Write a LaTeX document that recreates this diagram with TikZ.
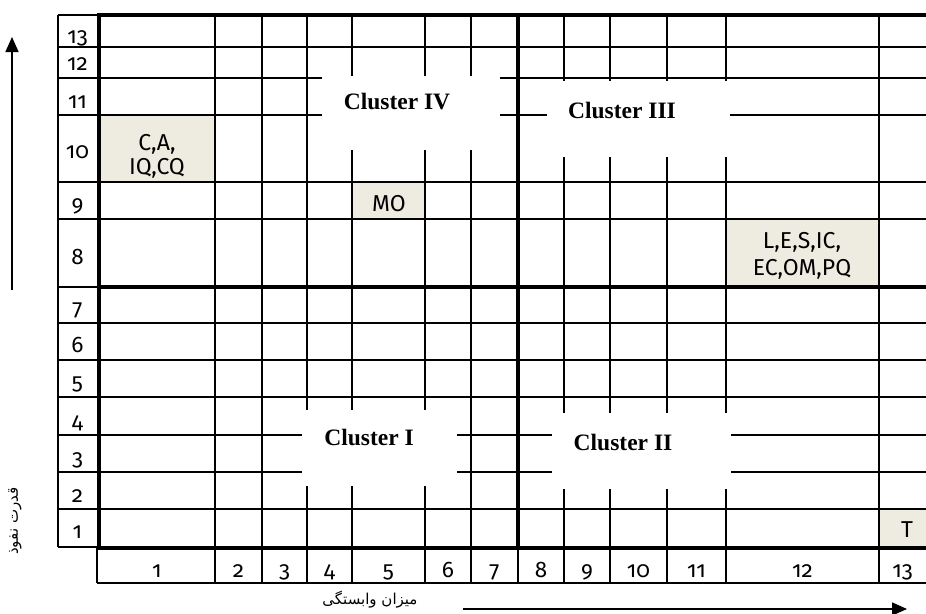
\documentclass[tikz,border=0pt]{standalone}
\usepackage{fontspec}
\usetikzlibrary{arrows.meta}
\TeXXeTstate=1
\newfontfamily\cellfont[Numbers=OldStyle]{Fira Sans}
\newfontfamily\clusterfont{Liberation Serif}
\newfontfamily\farsifont[Script=Arabic]{DejaVu Sans}
\definecolor{clrcell}{HTML}{EEECE1}
\definecolor{clrgrid}{HTML}{000000}
\definecolor{clrgap}{HTML}{FFFFFF}

\begin{document}
\begin{tikzpicture}[
    x=1pt, y=-1pt,
    gridline/.style={draw=clrgrid, line width=1.8pt},
    boldline/.style={draw=clrgrid, line width=4.4pt, line cap=rect},
    cell/.style={fill=clrcell, inner sep=0, outer sep=0},
    celltext/.style={font=\cellfont\fontsize{23}{24}\selectfont, align=center, inner sep=0},
    numlabel/.style={font=\cellfont\fontsize{22.5}{24}\selectfont, anchor=base, inner sep=0},
    gapmask/.style={fill=clrgap, inner sep=0, outer sep=0},
    cluster/.style={font=\clusterfont\bfseries\fontsize{23.5}{28}\selectfont, inner sep=0},
    axisarrow/.style={-{Triangle[length=15pt, width=13pt]}, line width=1.6pt, color=clrgrid},
    axistext/.style={font=\farsifont\fontsize{15}{17}\selectfont, inner sep=0},
]
\useasboundingbox (0,0) rectangle (926,613);
% shaded cells
\node[cell, minimum width=116pt, minimum height=67pt] (n_cell1) at (157,148.5) {};
\node[cell, minimum width=73pt, minimum height=37pt] (n_cell2) at (388.5,200.5) {};
\node[cell, minimum width=153pt, minimum height=68pt] (n_cell3) at (802.5,253) {};
\node[cell, minimum width=60pt, minimum height=38pt] (n_cell4) at (909,528) {};
\node[celltext] (n_cell1_txt) at (157,156) {C,A,\\IQ,CQ};
\node[celltext] (n_cell2_txt) at (389,204) {MO};
\node[celltext] (n_cell3_txt) at (802,256) {L,E,S,IC,\\[3pt]EC,OM,PQ};
\node[celltext] (n_cell4_txt) at (907,530) {T};
% thin rules
\draw[gridline] (58,15) -- (99,15);
\draw[gridline] (58,47) -- (926,47);
\draw[gridline] (58,78) -- (926,78);
\draw[gridline] (58,115) -- (926,115);
\draw[gridline] (58,182) -- (926,182);
\draw[gridline] (58,219) -- (926,219);
\draw[gridline] (58,287) -- (99,287);
\draw[gridline] (58,323) -- (926,323);
\draw[gridline] (58,360) -- (926,360);
\draw[gridline] (58,397) -- (926,397);
\draw[gridline] (58,435) -- (926,435);
\draw[gridline] (58,472) -- (926,472);
\draw[gridline] (58,509) -- (926,509);
\draw[gridline] (58,547) -- (99,547);
\draw[gridline] (97,583) -- (926,583);
\draw[gridline] (58,15) -- (58,547);
\draw[gridline] (97,548) -- (97,583);
\draw[gridline] (215,15) -- (215,583);
\draw[gridline] (262,15) -- (262,583);
\draw[gridline] (307,15) -- (307,583);
\draw[gridline] (352,15) -- (352,583);
\draw[gridline] (425,15) -- (425,583);
\draw[gridline] (471,15) -- (471,583);
\draw[gridline] (518,548) -- (518,583);
\draw[gridline] (564,15) -- (564,583);
\draw[gridline] (610,15) -- (610,583);
\draw[gridline] (667,15) -- (667,583);
\draw[gridline] (726,15) -- (726,583);
\draw[gridline] (879,15) -- (879,583);
% cluster labels
\node[gapmask, minimum width=178pt, minimum height=74pt] (g_4) at (411,113) {};
\node[cluster] (n_clu4) at (397,102) {Cluster IV};
\node[gapmask, minimum width=183pt, minimum height=76pt] (g_3) at (638.5,119) {};
\node[cluster] (n_clu3) at (622,110) {Cluster III};
\node[gapmask, minimum width=155pt, minimum height=76pt] (g_1) at (379.5,448) {};
\node[cluster] (n_clu1) at (369,437) {Cluster I};
\node[gapmask, minimum width=179pt, minimum height=76pt] (g_2) at (641.5,451) {};
\node[cluster] (n_clu2) at (623,442) {Cluster II};
% thick rules
\draw[boldline] (99,15) -- (926,15);
\draw[boldline] (99,15) -- (99,548);
\draw[boldline] (99,287) -- (926,287);
\draw[boldline] (99,548) -- (926,548);
\draw[boldline] (518,15) -- (518,548);
% row numbers
\node[numlabel] (n_r13) at (77.5,43) {13};
\node[numlabel] (n_r12) at (77.5,70) {12};
\node[numlabel] (n_r11) at (77.5,108) {11};
\node[numlabel] (n_r10) at (77.5,158) {10};
\node[numlabel] (n_r9) at (77.5,211) {9};
\node[numlabel] (n_r8) at (77.5,264) {8};
\node[numlabel] (n_r7) at (77.5,315) {7};
\node[numlabel] (n_r6) at (77.5,352) {6};
\node[numlabel] (n_r5) at (77.5,389) {5};
\node[numlabel] (n_r4) at (77.5,428) {4};
\node[numlabel] (n_r3) at (77.5,465) {3};
\node[numlabel] (n_r2) at (77.5,502) {2};
\node[numlabel] (n_r1) at (77.5,538) {1};
% column numbers
\node[numlabel] (n_c1) at (157,577) {1};
\node[numlabel] (n_c2) at (238.5,577) {2};
\node[numlabel] (n_c3) at (284.5,577) {3};
\node[numlabel] (n_c4) at (329.5,577) {4};
\node[numlabel] (n_c5) at (388.5,577) {5};
\node[numlabel] (n_c6) at (448,577) {6};
\node[numlabel] (n_c7) at (494.5,577) {7};
\node[numlabel] (n_c8) at (541,577) {8};
\node[numlabel] (n_c9) at (587,577) {9};
\node[numlabel] (n_c10) at (638.5,577) {10};
\node[numlabel] (n_c11) at (696.5,577) {11};
\node[numlabel] (n_c12) at (802.5,577) {12};
\node[numlabel] (n_c13) at (902.5,577) {13};
% axes
\coordinate (a_up_from) at (12,290);
\coordinate (a_up_to) at (12,37);
\draw[axisarrow] (a_up_from) -- (a_up_to);
\coordinate (a_right_from) at (463,609);
\coordinate (a_right_to) at (907,609);
\draw[axisarrow] (a_right_from) -- (a_right_to);
\node[axistext, rotate=90] (n_power) at (15,521) {\beginR قدرت نفوذ\endR};
\node[axistext] (n_depend) at (370,600) {\beginR میزان وابستگی\endR};
\end{tikzpicture}
\end{document}
